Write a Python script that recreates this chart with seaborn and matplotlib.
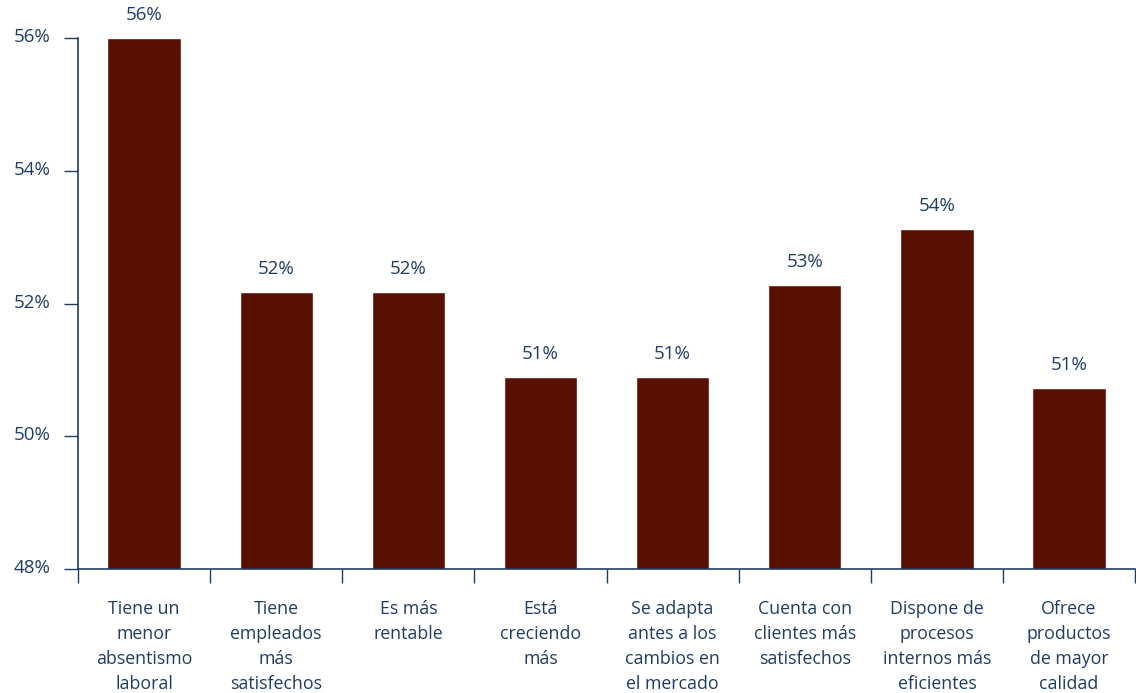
import matplotlib
matplotlib.use("Agg")
import matplotlib.pyplot as plt
import matplotlib.transforms as mtransforms
import seaborn as sns
import pandas as pd
import numpy as np

categories = [
    "Tiene un\nmenor\nabsentismo\nlaboral",
    "Tiene\nempleados\nmás\nsatisfechos",
    "Es más\nrentable",
    "Está\ncreciendo\nmás",
    "Se adapta\nantes a los\ncambios en\nel mercado",
    "Cuenta con\nclientes más\nsatisfechos",
    "Dispone de\nprocesos\ninternos más\neficientes",
    "Ofrece\nproductos\nde mayor\ncalidad",
]
values = [56.0, 52.17, 52.17, 50.9, 50.9, 52.28, 53.12, 50.73]
bar_labels = ["56%", "52%", "52%", "51%", "51%", "53%", "54%", "51%"]
y_ticks = [48, 50, 52, 54, 56]
y_tick_labels = ["48%", "50%", "52%", "54%", "56%"]

sns.set_theme(style="white")
plt.rcParams["font.family"] = ["Open Sans", "DejaVu Sans"]

navy = "#1f3d63"
bar_color = "#5a1000"

fig = plt.figure(figsize=(11.36, 6.93), dpi=100)
ax = fig.add_axes([0.0687, 0.179, 0.9305, 0.766])

df = pd.DataFrame({"cat": categories, "val": values})
sns.barplot(data=df, x="cat", y="val", color=bar_color, width=0.555,
            saturation=1, ax=ax)

ax.set_ylim(48, 56)
ax.set_xlim(-0.5, len(categories) - 0.5)
ax.set_yticks(y_ticks)
ax.set_yticklabels(y_tick_labels)
ax.set_xlabel("")
ax.set_ylabel("")

for i, (v, lab) in enumerate(zip(values, bar_labels)):
    ax.annotate(lab, (i, v), xytext=(0, 16.5), textcoords="offset points",
                ha="center", va="center", fontsize=13.5, color=navy)

ax.set_xticks(np.arange(len(categories) + 1) - 0.5, minor=True)
ax.tick_params(axis="x", which="major", length=0, pad=22, labelsize=12.8,
               labelcolor=navy)
ax.tick_params(axis="x", which="minor", length=10, width=1, color=navy,
               direction="out", bottom=True)
ax.tick_params(axis="y", which="major", length=10, width=1, color=navy,
               direction="out", left=True, labelsize=13.5, labelcolor=navy, pad=10)
for t in ax.get_xticklabels():
    t.set_linespacing(1.5)
shift = mtransforms.ScaledTranslation(0, 3 / 100, fig.dpi_scale_trans)
for t in ax.get_yticklabels():
    t.set_transform(t.get_transform() + shift)

for s in ["top", "right"]:
    ax.spines[s].set_visible(False)
for s in ["left", "bottom"]:
    ax.spines[s].set_color(navy)
    ax.spines[s].set_linewidth(1.2)

fig.savefig("out.png", dpi=100)
